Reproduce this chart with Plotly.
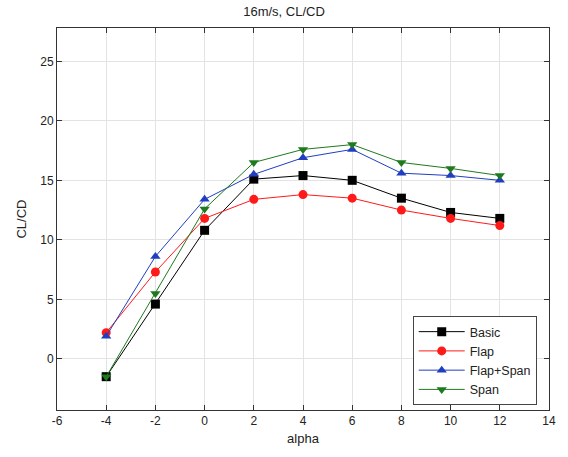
import plotly.graph_objects as go

alpha = [-4, -2, 0, 2, 4, 6, 8, 10, 12]
basic = [-1.5, 4.6, 10.8, 15.1, 15.4, 15.0, 13.5, 12.3, 11.8]
flap = [2.2, 7.3, 11.8, 13.4, 13.8, 13.5, 12.5, 11.8, 11.2]
flap_span = [1.9, 8.6, 13.4, 15.5, 16.9, 17.6, 15.6, 15.4, 15.0]
span = [-1.5, 5.5, 12.6, 16.5, 17.6, 18.0, 16.5, 16.0, 15.4]

x_ticks = [-6, -4, -2, 0, 2, 4, 6, 8, 10, 12, 14]
x_tick_text = ["-6", "-4", "-2", "0", "2", "4", "6", "8", "10", "12", "14"]
y_ticks = [0, 5, 10, 15, 20, 25]

series = [
    ("Basic", basic, "#000000", "square"),
    ("Flap", flap, "#ff1a1a", "circle"),
    ("Flap+Span", flap_span, "#1f3fbf", "triangle-up"),
    ("Span", span, "#1e7a1e", "triangle-down"),
]

fig = go.Figure()
for name, vals, color, sym in series:
    fig.add_trace(go.Scatter(
        x=alpha, y=vals, name=name, mode="lines+markers",
        line=dict(color=color, width=1),
        marker=dict(symbol=sym, size=9, color=color),
    ))

font_family = "Liberation Sans, Arial"
axis_common = dict(
    showgrid=True, gridcolor="#e3e3e3", gridwidth=1,
    showline=True, linecolor="#333333", linewidth=1, mirror="ticks",
    ticks="inside", ticklen=5, tickcolor="#333333",
    zeroline=False,
    tickfont=dict(family=font_family, size=12, color="#222222"),
)

fig.update_layout(
    width=568, height=457,
    margin=dict(l=57, r=17, t=28, b=47),
    paper_bgcolor="white", plot_bgcolor="white",
    title=dict(text="16m/s, CL/CD", x=0.5, xanchor="center", y=0.975, yanchor="middle",
               font=dict(family=font_family, size=13, color="#222222")),
    xaxis=dict(range=[-6, 14], tickvals=x_ticks, ticktext=x_tick_text,
               title=dict(text="alpha", standoff=6,
                          font=dict(family=font_family, size=13, color="#222222")),
               **axis_common),
    yaxis=dict(range=[-4.3, 27.8], tickvals=y_ticks,
               title=dict(text="CL/CD", standoff=10,
                          font=dict(family=font_family, size=13, color="#222222")),
               **axis_common),
    legend=dict(x=0.723, y=0.246, xanchor="left", yanchor="top",
                bgcolor="white", bordercolor="#444444", borderwidth=1,
                font=dict(family=font_family, size=12.5, color="#222222"),
                tracegroupgap=0, itemwidth=46),
    showlegend=True,
)

fig.write_html("out.html")
